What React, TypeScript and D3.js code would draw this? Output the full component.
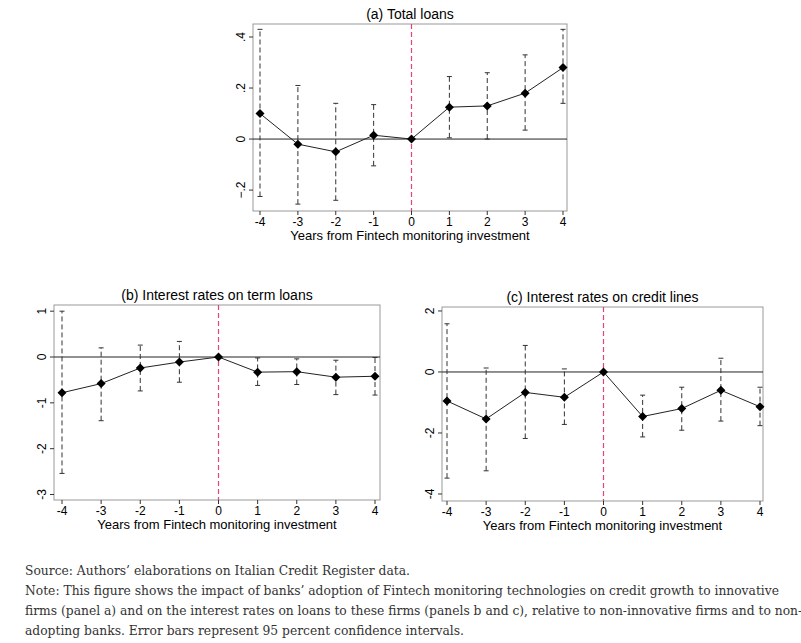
import React from "react";
import * as d3 from "d3";

const years = [-4, -3, -2, -1, 0, 1, 2, 3, 4];
const loansEst = [0.1, -0.02, -0.05, 0.015, 0, 0.125, 0.13, 0.18, 0.28];
const loansLo = [-0.225, -0.255, -0.24, -0.105, 0, 0.005, 0.0, 0.035, 0.14];
const loansHi = [0.43, 0.21, 0.14, 0.135, 0, 0.245, 0.26, 0.33, 0.43];
const termEst = [-0.78, -0.58, -0.24, -0.11, 0, -0.33, -0.32, -0.44, -0.42];
const termLo = [-2.54, -1.39, -0.74, -0.55, 0, -0.62, -0.6, -0.82, -0.83];
const termHi = [1.0, 0.2, 0.26, 0.34, 0, -0.02, -0.04, -0.07, -0.01];
const creditEst = [-0.95, -1.54, -0.67, -0.83, 0, -1.46, -1.2, -0.6, -1.14];
const creditLo = [-3.48, -3.24, -2.18, -1.72, 0, -2.13, -1.91, -1.61, -1.76];
const creditHi = [1.58, 0.13, 0.87, 0.1, 0, -0.76, -0.5, 0.45, -0.5];
const loansTicks = [-0.2, 0, 0.2, 0.4];
const termTicks = [-3, -2, -1, 0, 1];
const creditTicks = [-4, -2, 0, 2];
const fmtLoans = (v: number) => (v === 0 ? "0" : d3.format(".1f")(v).replace("0.", "."));
const fmtInt = (v: number) => String(v);

const F = "Liberation Sans, Arial, sans-serif";

function Panel(p: any) {
  const { title, box, xr, yd, est, lo, hi, ticks, fmt } = p;
  const [L, T, R, B] = box;
  const x = d3.scaleLinear().domain([-4, 4]).range(xr);
  const y = d3.scaleLinear().domain(yd).range([B, T]);
  const line = d3.line<number>().x((_, i) => x(years[i])).y((v) => y(v));
  const diamond = "M0,-4.5L4.5,0L0,4.5L-4.5,0Z";
  return (
    <g fontFamily={F}>
      <text x={(L + R) / 2} y={T - 5} textAnchor="middle" fontSize={14}>{title}</text>
      <rect x={L} y={T} width={R - L} height={B - T} fill="white" stroke="#999" />
      <line x1={L} x2={R} y1={y(0)} y2={y(0)} stroke="#222" strokeWidth={1} />
      <line x1={x(0)} x2={x(0)} y1={T} y2={B} stroke="#e0457a" strokeDasharray="5,3" strokeWidth={1.2} />
      {years.map((yr, i) => yr === 0 ? null : (
        <g key={yr} stroke="#333" strokeWidth={1}>
          <line x1={x(yr)} x2={x(yr)} y1={y(lo[i])} y2={y(hi[i])} strokeDasharray="5,3" />
          <line x1={x(yr) - 2.5} x2={x(yr) + 2.5} y1={y(lo[i])} y2={y(lo[i])} />
          <line x1={x(yr) - 2.5} x2={x(yr) + 2.5} y1={y(hi[i])} y2={y(hi[i])} />
        </g>
      ))}
      <path d={line(est) || ""} fill="none" stroke="#222" strokeWidth={1} />
      {est.map((v: number, i: number) => (
        <path key={i} d={diamond} transform={`translate(${x(years[i])},${y(v)})`} fill="black" />
      ))}
      {years.map((yr) => (
        <g key={yr}>
          <line x1={x(yr)} x2={x(yr)} y1={B} y2={B + 4} stroke="#333" />
          <text x={x(yr)} y={B + 15} textAnchor="middle" fontSize={12}>{yr}</text>
        </g>
      ))}
      {ticks.map((t: number) => (
        <g key={t}>
          <line x1={L - 4} x2={L} y1={y(t)} y2={y(t)} stroke="#333" />
          <text transform={`translate(${L - 8},${y(t)}) rotate(-90)`} textAnchor="middle" fontSize={12}>{fmt(t)}</text>
        </g>
      ))}
      <text x={(L + R) / 2} y={B + 29} textAnchor="middle" fontSize={13}>Years from Fintech monitoring investment</text>
    </g>
  );
}

export default function App() {
  return (
    <svg width={801} height={643} style={{ position: "absolute", left: 0, top: 0, background: "white" }}>
      <Panel title="(a) Total loans" box={[253, 24, 567, 211]} xr={[260, 563]} yd={[-0.282, 0.451]}
        est={loansEst} lo={loansLo} hi={loansHi} ticks={loansTicks} fmt={fmtLoans} />
      <Panel title="(b) Interest rates on term loans" box={[54, 305, 380, 500]} xr={[62, 375]} yd={[-3.12, 1.135]}
        est={termEst} lo={termLo} hi={termHi} ticks={termTicks} fmt={fmtInt} />
      <Panel title="(c) Interest rates on credit lines" box={[442, 307, 763, 501]} xr={[447, 760]} yd={[-4.23, 2.13]}
        est={creditEst} lo={creditLo} hi={creditHi} ticks={creditTicks} fmt={fmtInt} />
      <g fontFamily="DejaVu Serif, serif" fontSize={12.3} fill="#333">
        <text x={25} y={575}>Source: Authors’ elaborations on Italian Credit Register data.</text>
        <text x={25} y={595}>Note: This figure shows the impact of banks’ adoption of Fintech monitoring technologies on credit growth to innovative</text>
        <text x={25} y={615}>firms (panel a) and on the interest rates on loans to these firms (panels b and c), relative to non-innovative firms and to non-</text>
        <text x={25} y={635}>adopting banks. Error bars represent 95 percent confidence intervals.</text>
      </g>
    </svg>
  );
}
